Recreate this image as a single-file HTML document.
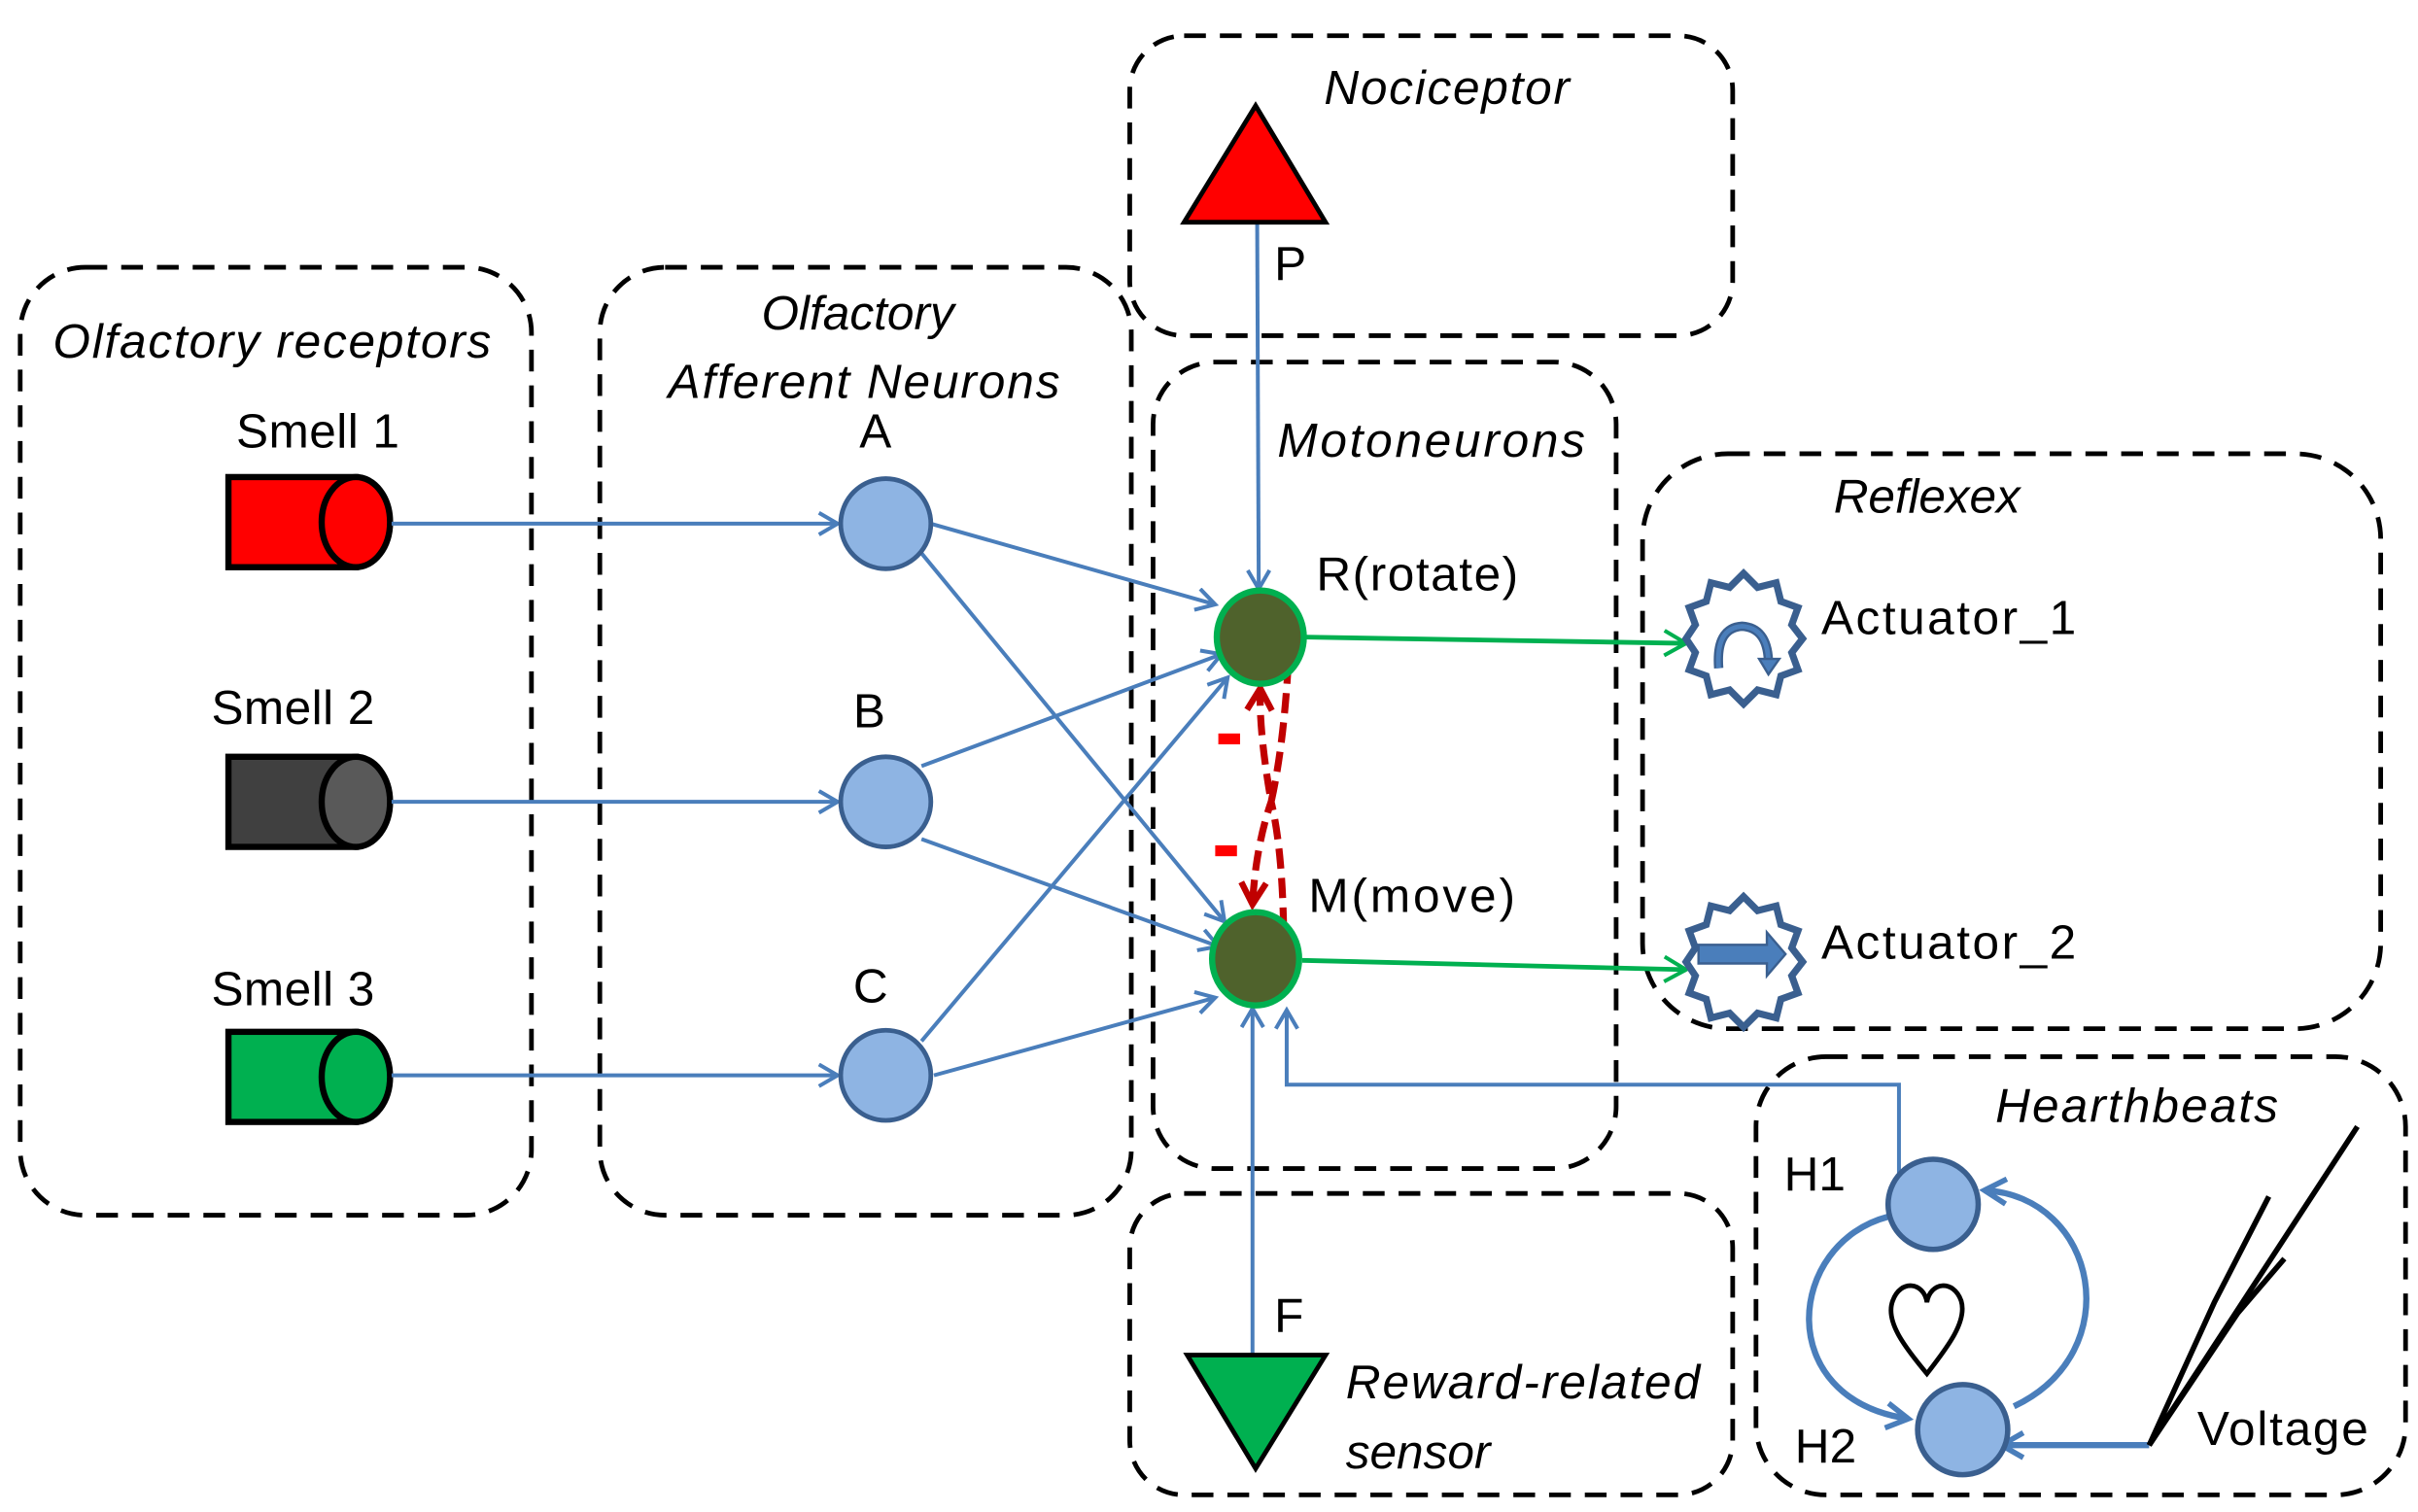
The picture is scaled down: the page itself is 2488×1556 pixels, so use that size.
<!DOCTYPE html>
<html><head><meta charset="utf-8"><style>
html,body{margin:0;padding:0;background:#fff;}
svg{display:block;}
text{font-family:"Liberation Sans",sans-serif;}
.lab{font-size:31px;fill:#000;}
.it{font-size:31px;font-style:italic;fill:#000;}
</style></head><body>
<svg width="2488" height="1556" viewBox="0 0 1556 973" preserveAspectRatio="none" xmlns="http://www.w3.org/2000/svg">
<defs>
<marker id="ab" markerWidth="20" markerHeight="20" refX="14" refY="8" orient="auto" markerUnits="userSpaceOnUse">
<polyline points="2,1 14,8 2,15" fill="none" stroke="#4a7ebb" stroke-width="2.5"/></marker>
<marker id="ab2" markerWidth="24" markerHeight="24" refX="16" refY="10" orient="auto" markerUnits="userSpaceOnUse">
<polyline points="2,2 16,10 2,18" fill="none" stroke="#4a7ebb" stroke-width="3.5"/></marker>
<marker id="ag" markerWidth="24" markerHeight="20" refX="16" refY="9" orient="auto" markerUnits="userSpaceOnUse">
<polyline points="2,1 16,9 2,17" fill="none" stroke="#00b050" stroke-width="2.5"/></marker>
<marker id="ar" markerWidth="24" markerHeight="24" refX="16" refY="10" orient="auto" markerUnits="userSpaceOnUse">
<polyline points="2,2 16,10 2,18" fill="none" stroke="#c00000" stroke-width="4"/></marker>
</defs>
<g fill="none" stroke="#000" stroke-width="3" stroke-dasharray="14,9">
<rect x="13" y="172" width="329" height="610" rx="42"/>
<rect x="386" y="172" width="342" height="610" rx="42"/>
<rect x="727" y="23" width="388" height="193" rx="35"/>
<rect x="742" y="233" width="298" height="519" rx="40"/>
<rect x="1057" y="292" width="475" height="370" rx="55"/>
<rect x="727" y="768" width="388" height="194" rx="35"/>
<rect x="1130" y="680" width="418" height="282" rx="45"/>
</g>
<text class="it" x="34" y="230" textLength="282">Olfactory receptors</text>
<text class="it" x="490" y="212">Olfactory</text>
<text class="it" x="430" y="256" textLength="252">Afferent Neurons</text>
<text class="it" x="852" y="67" textLength="158">Nociceptor</text>
<text class="it" x="822" y="294" textLength="198">Motoneurons</text>
<text class="it" x="1180" y="330" textLength="120">Reflexex</text>
<text class="it" x="1284" y="722" textLength="182">Hearthbeats</text>
<text class="it" x="866" y="900" textLength="228">Reward-related</text>
<text class="it" x="866" y="945">sensor</text>

<g stroke="#000" stroke-width="4">
<rect x="147" y="307" width="82" height="58" fill="#ff0000"/><ellipse cx="229" cy="336" rx="22" ry="29" fill="#ff0000"/>
<rect x="147" y="487" width="82" height="58" fill="#404040"/><ellipse cx="229" cy="516" rx="22" ry="29" fill="#595959"/>
<rect x="147" y="664" width="82" height="58" fill="#00b050"/><ellipse cx="229" cy="693" rx="22" ry="29" fill="#00b050"/>
</g>
<text class="lab" x="152" y="288" textLength="105">Smell 1</text>
<text class="lab" x="136" y="466" textLength="105">Smell 2</text>
<text class="lab" x="136" y="647" textLength="105">Smell 3</text>

<g stroke="#4a7ebb" stroke-width="2.5" fill="none">
<line x1="252" y1="337" x2="539" y2="337" marker-end="url(#ab)"/>
<line x1="252" y1="516" x2="539" y2="516" marker-end="url(#ab)"/>
<line x1="252" y1="692" x2="539" y2="692" marker-end="url(#ab)"/>
<line x1="599" y1="337" x2="782" y2="389" marker-end="url(#ab)"/>
<line x1="593" y1="356" x2="788" y2="593" marker-end="url(#ab)"/>
<line x1="593" y1="493" x2="786" y2="421" marker-end="url(#ab)"/>
<line x1="593" y1="540" x2="784" y2="609" marker-end="url(#ab)"/>
<line x1="593" y1="670" x2="790" y2="436" marker-end="url(#ab)"/>
<line x1="601" y1="692" x2="782" y2="642" marker-end="url(#ab)"/>
<line x1="809" y1="143" x2="810" y2="379" marker-end="url(#ab)"/>
<line x1="806" y1="872" x2="806" y2="649" marker-end="url(#ab)"/>
<polyline points="1222,755 1222,698 828,698 828,650" marker-end="url(#ab)"/>
</g>
<g stroke="#00b050" stroke-width="3" fill="none">
<line x1="840" y1="410" x2="1085" y2="414" marker-end="url(#ag)"/>
<line x1="838" y1="618" x2="1085" y2="624" marker-end="url(#ag)"/>
</g>
<g stroke="#c00000" stroke-width="4.5" fill="none" stroke-dasharray="13,6">
<path d="M829,427 Q826,480 818,516 Q810,470 811,443" marker-end="url(#ar)"/>
<path d="M826,597 Q825,545 818,516 Q808,545 806,582" marker-end="url(#ar)"/>
</g>
<g fill="#ff0000"><rect x="784" y="472" width="14" height="7"/><rect x="782" y="544" width="14" height="7"/></g>

<g fill="#8eb4e3" stroke="#3a5f8f" stroke-width="3">
<ellipse cx="570" cy="337" rx="29" ry="29"/>
<ellipse cx="570" cy="516" rx="29" ry="29"/>
<ellipse cx="570" cy="692" rx="29" ry="29"/>
</g>
<text class="lab" x="553" y="288">A</text>
<text class="lab" x="549" y="468">B</text>
<text class="lab" x="549" y="645">C</text>
<g fill="#4f622c" stroke="#00b050" stroke-width="4">
<ellipse cx="811" cy="410" rx="28" ry="30"/>
<ellipse cx="808" cy="617" rx="28" ry="30"/>
</g>
<text class="lab" x="847" y="380" textLength="130">R(rotate)</text>
<text class="lab" x="842" y="587" textLength="133">M(move)</text>

<polygon points="762,143 808,68 853,143" fill="#ff0000" stroke="#000" stroke-width="3"/>
<polygon points="764,872 853,872 808,945" fill="#00b050" stroke="#000" stroke-width="3"/>
<text class="lab" x="820" y="180">P</text>
<text class="lab" x="820" y="857">F</text>

<g fill="#fff" stroke="#3a5f8f" stroke-width="4.5">
<polygon points="1122,369 1131,378 1143,375 1146,387 1157,391 1153,402 1160,411 1153,420 1157,431 1146,435 1143,447 1131,444 1122,453 1113,444 1101,447 1098,435 1087,431 1091,420 1085,411 1091,402 1087,391 1098,387 1101,375 1113,378"/>
<g transform="translate(0,208)"><polygon points="1122,369 1131,378 1143,375 1146,387 1157,391 1153,402 1160,411 1153,420 1157,431 1146,435 1143,447 1131,444 1122,453 1113,444 1101,447 1098,435 1087,431 1091,420 1085,411 1091,402 1087,391 1098,387 1101,375 1113,378"/></g>
</g>
<path d="M1106,430 Q1104,404 1121,403 Q1137,404 1138,425" fill="none" stroke="#3a5f8f" stroke-width="6"/>
<path d="M1106,430 Q1104,404 1121,403 Q1137,404 1138,425" fill="none" stroke="#4a7ebb" stroke-width="3"/>
<polygon points="1132,424 1145,424 1138,434" fill="#4a7ebb" stroke="#3a5f8f" stroke-width="1.5"/>
<polygon points="1093,608 1137,608 1137,600 1149,614 1137,628 1137,620 1093,620" fill="#4a7ebb" stroke="#3a5f8f" stroke-width="1.5"/>
<text class="lab" x="1172" y="408" textLength="164">Actuator_1</text>
<text class="lab" x="1172" y="617" textLength="164">Actuator_2</text>

<g stroke="#4a7ebb" stroke-width="4" fill="none">
<path d="M1215,783 C1150,800 1140,900 1228,913" marker-end="url(#ab2)"/>
<path d="M1296,905 C1370,870 1350,770 1277,766" marker-end="url(#ab2)"/>
<line x1="1383" y1="930" x2="1288" y2="930" marker-end="url(#ab2)"/>
</g>
<g fill="#8eb4e3" stroke="#3a5f8f" stroke-width="3.5">
<ellipse cx="1244" cy="775" rx="29" ry="29"/>
<ellipse cx="1263" cy="920" rx="29" ry="29"/>
</g>
<text class="lab" x="1148" y="766">H1</text>
<text class="lab" x="1155" y="941">H2</text>
<path d="M1240,884 C1225,866 1213,850 1218,837 C1223,823 1238,825 1240,838 C1242,825 1257,823 1262,837 C1266,850 1254,866 1240,884 Z" fill="none" stroke="#000" stroke-width="3"/>
<g stroke="#000" stroke-width="3.5" fill="none">
<polyline points="1517,725 1383,930 1425,838 1460,770"/>
<polyline points="1383,930 1440,845 1470,810"/>
</g>
<text class="lab" x="1414" y="930" textLength="110">Voltage</text>
</svg>
</body></html>
